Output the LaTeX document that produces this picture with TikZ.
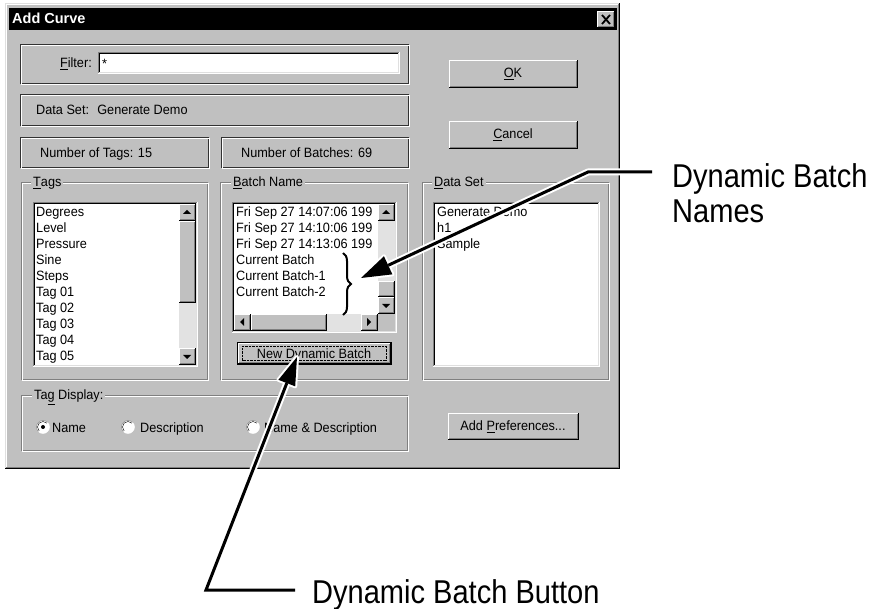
\documentclass[tikz,border=0pt]{standalone}
\usepackage{fontspec}
\setmainfont{Liberation Sans}
\newfontfamily\uifont[FakeStretch=0.94]{Liberation Sans}
\newfontfamily\callfont[FakeStretch=0.88]{Liberation Sans}
\usetikzlibrary{calc,decorations.pathreplacing}
\definecolor{dlg}{HTML}{C0C0C0}
\definecolor{dkg}{HTML}{808080}
\definecolor{ltg}{HTML}{DFDFDF}
\definecolor{chk}{HTML}{E2E2E2}
\newcommand\wRaised[4]{%
  \fill[dlg] (#1,#2) rectangle (#3,#4);
  \draw[white] ({#1+0.5},{#4-1}) -- ({#1+0.5},{#2+0.5}) -- ({#3-1},{#2+0.5});
  \draw[dkg] ({#1+1},{#4-1.5}) -- ({#3-1.5},{#4-1.5}) -- ({#3-1.5},{#2+1});
  \draw[black] (#1,{#4-0.5}) -- ({#3-0.5},{#4-0.5}) -- ({#3-0.5},#2);
}
\newcommand\wSunken[4]{%
  \fill[white] (#1,#2) rectangle (#3,#4);
  \draw[dkg] ({#1+0.5},{#4-1}) -- ({#1+0.5},{#2+0.5}) -- ({#3-1},{#2+0.5});
  \draw[black] ({#1+1.5},{#4-2}) -- ({#1+1.5},{#2+1.5}) -- ({#3-2},{#2+1.5});
  \draw[ltg] ({#1+1},{#4-1.5}) -- ({#3-1.5},{#4-1.5}) -- ({#3-1.5},{#2+1});
  \draw[white] (#1,{#4-0.5}) -- ({#3-0.5},{#4-0.5}) -- ({#3-0.5},#2);
}
\newcommand\wEtch[4]{%
  \draw[dkg] ({#1+0.5},{#2+0.5}) rectangle ({#3-1.5},{#4-1.5});
  \draw[white] ({#1+1.5},{#2+1.5}) rectangle ({#3-0.5},{#4-0.5});
}
\newcommand\wStatic[4]{%
  \draw[black!80] ({#1+0.5},{#2+0.5}) rectangle ({#3-1.5},{#4-1.5});
  \draw[white] ({#1+1.5},{#2+1.5}) rectangle ({#3-0.5},{#4-0.5});
}
\newcommand\arrUp[2]{\fill[black] ({#1-4},{#2+2}) -- ({#1+4},{#2+2}) -- (#1,{#2-2}) -- cycle;}
\newcommand\arrDown[2]{\fill[black] ({#1-4},{#2-2}) -- ({#1+4},{#2-2}) -- (#1,{#2+2}) -- cycle;}
\newcommand\arrLeft[2]{\fill[black] ({#1+2},{#2-4}) -- ({#1+2},{#2+4}) -- ({#1-2},#2) -- cycle;}
\newcommand\arrRight[2]{\fill[black] ({#1-2},{#2-4}) -- ({#1-2},{#2+4}) -- ({#1+2},#2) -- cycle;}
\newcommand\wRadio[2]{%
  \fill[white] (#1,#2) circle (6.5);
  \draw[dkg] (#1,#2) ++(135:6.5) arc[start angle=135,end angle=315,radius=6.5];
  \draw[black] (#1,#2) ++(135:5.5) arc[start angle=135,end angle=315,radius=5.5];
  \draw[white] (#1,#2) ++(-45:6.5) arc[start angle=-45,end angle=135,radius=6.5];
}
\begin{document}
\begin{tikzpicture}[x=1pt,y=-1pt,
  ui/.style={font=\uifont\fontsize{13.5}{16}\selectfont, inner sep=0pt, anchor=base west},
  uic/.style={ui, anchor=base},
  glabel/.style={ui, fill=dlg, inner xsep=2pt, inner ysep=1pt},
  callout/.style={font=\callfont\fontsize{33}{38}\selectfont, inner sep=0pt, anchor=base west},
  halo/.style={white, line width=7pt, line join=round},
  leader/.style={black, line width=3pt, line join=miter}]
\useasboundingbox (0,0) rectangle (873,609);
\fill[white] (0,0) rectangle (873,609);

% dialog frame
\fill[dlg] (5,3) rectangle (620,469);
\draw[ltg] (5.5,468) -- (5.5,3.5) -- (619,3.5);
\draw[white] (6.5,467) -- (6.5,4.5) -- (618,4.5);
\draw[black] (5,468.5) -- (619.5,468.5) -- (619.5,3);
\draw[dkg] (6,467.5) -- (618.5,467.5) -- (618.5,4);
% title bar
\fill[black] (9,8) rectangle (617,30);
\node[anchor=base west, text=white, inner sep=0pt, font=\bfseries\fontsize{14.5}{16}\selectfont] (title) at (12,24) {Add Curve};
\wRaised{597}{11}{615}{28}
\draw[black, line width=1.8pt] (602,15) -- (610,24) (610,15) -- (602,24);

% top static boxes
\wStatic{20}{44}{410}{85}
\node[ui, anchor=base east] (filterlbl) at (92,68) {\underline{F}ilter:};
\wSunken{98}{52}{400}{74}
\node[ui] (filterval) at (102,69) {*};
\wStatic{20}{94}{410}{127}
\node[ui] (dataset) at (36,115) {Data Set:~ Generate Demo};
\wStatic{20}{137}{210}{169}
\node[ui] (ntags) at (40,158) {Number of Tags: 15};
\wStatic{221}{137}{410}{169}
\node[ui] (nbatch) at (241,158) {Number of Batches: 69};

% OK / Cancel
\wRaised{449}{60}{578}{88}
\node[uic] (ok) at (513,78) {\underline{O}K};
\wRaised{449}{121}{578}{149}
\node[uic] (cancel) at (513,139) {\underline{C}ancel};

% group boxes
\wEtch{21}{182}{209}{381}
\node[glabel] (tagsg) at (31,187) {\underline{T}ags};
\wEtch{220}{182}{409}{381}
\node[glabel] (batchg) at (231,187) {\underline{B}atch Name};
\wEtch{422}{182}{610}{381}
\node[glabel] (dsg) at (432,187) {\underline{D}ata Set};

% Tags list
\wSunken{33}{202}{198}{367}
\foreach \t [count=\i from 0] in {Degrees,Level,Pressure,Sine,Steps,Tag 01,Tag 02,Tag 03,Tag 04,Tag 05}
  \node[ui] (tag\i) at (36,{217+16*\i}) {\t};
\wRaised{179}{204}{196}{221}
\arrUp{187}{212}
\wRaised{179}{221}{196}{303}
\fill[chk] (179,303) rectangle (196,348);
\wRaised{179}{348}{196}{365}
\arrDown{187}{357}

% Batch list
\wSunken{232}{202}{397}{333}
\foreach \t [count=\i from 0] in {Fri Sep 27 14:07:06 199,Fri Sep 27 14:10:06 199,Fri Sep 27 14:13:06 199,Current Batch,Current Batch-1,Current Batch-2}
  \node[ui] (bat\i) at (236,{217+16*\i}) {\t};
\fill[white] (377,204) rectangle (395,314);
\wRaised{378}{204}{395}{221}
\arrUp{386}{212}
\fill[chk] (378,221) rectangle (395,281);
\wRaised{378}{281}{395}{297}
\wRaised{378}{297}{395}{314}
\arrDown{386}{306}
\wRaised{234}{314}{251}{331}
\arrLeft{242}{322}
\wRaised{251}{314}{327}{331}
\fill[chk] (327,314) rectangle (361,331);
\wRaised{361}{314}{378}{331}
\arrRight{369}{322}
\fill[dlg] (378,314) rectangle (395,331);

% brace
\draw[black, line width=2pt, decorate, decoration={brace, amplitude=8pt}] (343,253) -- (343,315);

% New Dynamic Batch button
\draw[black] (237.5,342.5) rectangle (391.5,364.5);
\wRaised{238}{343}{391}{364}
\draw[black, densely dotted] (242.5,346.5) rectangle (386.5,360.5);
\node[uic] (newdyn) at (314,359) {New Dynamic Batch};

% Data Set list
\wSunken{433}{202}{600}{367}
\node[ui] (ds0) at (437,217) {Generate Demo};
\node[ui] (ds1) at (437,233) {h1};
\node[ui] (ds2) at (437,249) {Sample};

% Tag Display group
\wEtch{21}{395}{409}{452}
\node[glabel] (tagdisp) at (32,400) {Ta\underline{g} Display:};
\wRadio{43}{427}
\fill[black] (43,427) circle (2);
\node[ui] (rname) at (52,432) {Name};
\wRadio{128}{427}
\node[ui] (rdesc) at (140,432) {Description};
\wRadio{253}{427}
\node[ui] (rboth) at (264,432) {Name \& Description};

% Add Preferences
\wRaised{448}{413}{579}{440}
\node[uic] (addpref) at (513,431) {Add \underline{P}references...};

% callout texts
\node[callout] (nm1) at (672,188) {Dynamic Batch};
\node[callout] (nm2) at (672,223) {Names};
\node[callout] (btnlbl) at (312,603) {Dynamic Batch Button};

% callout 1
\coordinate (k1) at (652,172);
\coordinate (j1) at (588,172);
\coordinate (t1) at (361,278);
\coordinate (b1) at ($(t1)!30pt!(j1)$);
\coordinate (l1) at ($(b1)!10pt!90:(t1)$);
\coordinate (r1) at ($(b1)!10pt!-90:(t1)$);
% callout 2
\coordinate (k2) at (295,590);
\coordinate (j2) at (206,590);
\coordinate (t2) at (297,357);
\coordinate (b2) at ($(t2)!28pt!(j2)$);
\coordinate (l2) at ($(b2)!9pt!90:(t2)$);
\coordinate (r2) at ($(b2)!9pt!-90:(t2)$);

\draw[halo] (k1) -- (j1) -- (b1);
\draw[halo] (k2) -- (j2) -- (b2);
\filldraw[white, line width=4pt, line join=round] (t1) -- (l1) -- (r1) -- cycle;
\filldraw[white, line width=4pt, line join=round] (t2) -- (l2) -- (r2) -- cycle;
\draw[leader] (k1) -- (j1) -- (b1);
\draw[leader] (k2) -- (j2) -- (b2);
\fill[black] (t1) -- (l1) -- (r1) -- cycle;
\fill[black] (t2) -- (l2) -- (r2) -- cycle;
\end{tikzpicture}
\end{document}
